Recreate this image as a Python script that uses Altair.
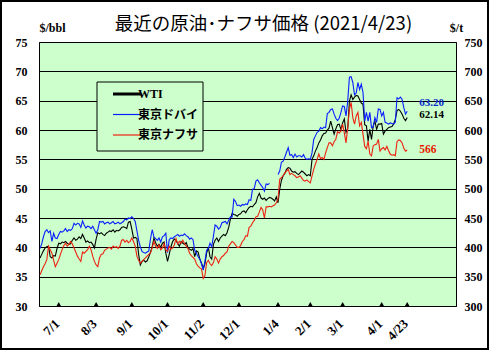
import json
import altair as alt
import pandas as pd

# ---------------- data ----------------
WTI = [
    38.2, 38.8, 39.4, 39.9, 40.1, 40.2, 38.4, 38.2, 38.6, 38.5,
    39.8, 40.7, 40.6, 40.9, 40.8, 41.0, 40.7, 40.5, 40.6, 41.2,
    41.6, 41.2, 41.4, 41.8, 41.5, 42.2, 41.6, 40.9, 41.1, 40.8,
    40.9, 40.5, 39.9, 41.4, 42.5, 42.3, 42.5, 42.2, 42.0, 42.4,
    42.6, 42.8, 42.7, 43.0, 42.6, 42.9, 42.8, 43.0, 43.4, 43.5,
    43.4, 43.2, 44.3, 44.4, 43.1, 41.6, 41.7, 41.5, 38.8, 37.0,
    37.6, 37.8, 37.5, 37.7, 38.4, 39.2, 40.1, 41.6, 40.8, 40.2,
    40.5, 40.0, 40.7, 40.9, 39.0, 37.6, 38.8, 40.1, 41.0, 41.4,
    41.2, 40.6, 40.2, 41.0, 40.7, 40.5, 40.8, 40.0, 39.7, 39.5,
    39.8, 38.4, 39.4, 39.2, 38.0, 37.3, 36.4, 37.2, 39.0, 40.0,
    38.4, 38.0, 40.5, 41.2, 41.6, 41.0, 41.6, 41.9, 42.2, 42.0,
    42.5, 43.4, 44.8, 45.8, 45.6, 45.5, 45.3, 45.6, 45.7, 46.1,
    46.2, 45.9, 46.4, 46.8, 47.0, 46.9, 47.3, 47.6, 48.6, 49.2,
    48.4, 48.2, 48.4, 48.0, 48.3, 48.5, 48.4, 48.2, 47.9, 48.6,
    47.6, 49.9, 51.4, 52.2, 52.6, 53.3, 53.6, 53.5, 53.0, 52.8,
    52.9, 52.6, 52.4, 52.7, 53.0, 52.8, 52.5, 52.2, 52.4, 52.2,
    55.0, 55.6, 56.4, 57.0, 57.8, 58.3, 59.0, 59.4, 59.5, 60.0,
    60.3, 61.5, 60.4, 59.3, 60.2, 60.9, 61.0, 60.1, 61.2, 61.9,
    59.6, 60.2, 64.9, 66.0, 65.2, 65.6, 65.9, 65.8, 65.2, 64.6,
    64.4, 60.9, 60.7, 58.1, 60.1, 58.4, 60.7, 61.5, 60.1, 61.0,
    61.0, 61.1, 59.3, 59.8, 60.1, 60.4, 60.5, 60.6, 61.0, 61.8,
    63.3, 63.5, 63.2, 62.7, 62.0, 61.6, 62.14,
]

DUBAI = [
    39.8, 40.6, 41.8, 42.7, 43.0, 42.5, 42.8, 41.0, 42.4, 41.6,
    41.5, 42.2, 42.7, 42.6, 42.8, 43.2, 42.7, 43.0, 42.9, 43.2,
    44.1, 43.8, 44.1, 44.0, 43.4, 44.5, 43.8, 43.3, 43.6, 43.5,
    43.2, 43.6, 43.0, 42.4, 43.0, 44.4, 44.3, 44.4, 44.0, 44.2,
    44.3, 44.0, 44.2, 44.4, 44.0, 44.1, 44.3, 44.0, 44.2, 44.4,
    44.8, 44.7, 45.0, 44.9, 45.2, 44.9, 44.4, 42.8, 41.2, 40.1,
    39.3, 39.1, 39.0, 39.2, 39.4, 41.5, 43.0, 41.8, 41.5, 41.2,
    41.6, 40.9, 41.8, 42.0, 42.4, 39.1, 41.3, 41.6, 41.5, 41.8,
    42.0, 42.2, 41.9, 42.1, 42.0, 42.3, 42.0, 41.8, 41.4, 41.6,
    41.3, 39.5, 39.0, 38.4, 38.0, 37.2, 36.1, 37.6, 39.5, 39.8,
    40.7, 40.1, 41.9, 43.8, 43.6, 43.1, 43.4, 44.2, 44.3, 44.4,
    44.0, 44.6, 45.2, 45.2, 48.2, 47.8, 47.1, 47.2, 47.0, 47.3,
    47.2, 47.4, 47.3, 48.1, 48.0, 49.9, 50.0, 51.3, 51.5, 51.0,
    50.6, 50.2, 49.6, 50.8, 50.7, 50.9, None, None, None, None,
    52.4, 53.0, 54.5, 54.7, 55.4, 56.2, 57.0, 55.7, 55.8, 55.3,
    55.9, 55.4, 55.6, 55.6, 55.4, 55.8, 55.2, 55.0, 55.1, 55.0,
    56.1, 58.4, 59.0, 59.6, 59.8, 60.4, 60.2, 60.5, 60.4, 62.8,
    63.0, 63.5, 63.6, 62.7, 62.0, 61.6, 62.0, 63.0, 64.1, 64.0,
    62.4, 64.9, 69.0, 69.1, 68.1, 66.0, 66.3, 68.1, 66.9, 67.8,
    66.4, 61.5, 63.0, 61.5, 63.0, 60.4, 60.5, 62.1, 61.3, 63.6,
    63.5, 62.4, 63.0, 61.3, 61.2, 61.0, 61.2, 61.1, 61.0, 61.3,
    65.5, 65.3, 65.6, 65.2, 63.8, 62.7, 63.20,
]

NAPHTHA = [  # $/t
    353, 360, 367, 372, 379, 402, 396, 390, 378, 367,
    373, 379, 388, 396, 403, 407, 402, 405, 410, 406,
    399, 392, 385, 380, 376, 392, 390, 393, 396, 402,
    396, 385, 376, 370, 367, 382, 388, 389, 395, 397,
    399, 400, 397, 402, 400, 401, 398, 402, 412, 413,
    409, 412, 408, 410, 416, 410, 402, 385, 378, 373,
    376, 379, 382, 385, 388, 390, 400, 410, 402, 398,
    404, 396, 399, 406, 395, 393, 402, 397, 399, 404,
    415, 406, 410, 407, 412, 406, 402, 398, 390, 386,
    383, 380, 372, 368, 365, 363, 347, 352, 374, 378,
    372, 369, 374, 384, 380, 373, 380, 384, 386, 390,
    392, 402, 406, 410, 408, 404, 400, 400, 403, 410,
    413, 420, 419, 434, 436, 442, 446, 452, 453, 460,
    468, 464, 450, 469, 469, 470, 469, 471, 472, 476,
    482, 516, 519, 522, 527, 530, 533, 524, 526, 524,
    522, 519, 520, 522, 518, 514, 513, 515, 512, 510,
    522, 533, 542, 550, 559, 551, 553, 550, 561, 570,
    578, 578, 573, 580, 584, 597, 595, 598, 610, 595,
    578, 604, 635, 647, 621, 610, 624, 630, 607, 613,
    593, 572, 568, 581, 559, 556, 573, 575, 576, 584,
    564, 568, 570, 566, 572, 565, 559, 557, 558, 556,
    580, 583, 582, 578, 569, 564, 566,
]

SERIES = ["WTI", "東京ドバイ", "東京ナフサ"]
COLORS = ["#000000", "#0a1eff", "#ee2211"]
TICK_IDX = [11, 33, 54, 75, 96, 117, 140, 159, 178, 201, 216]
TICK_LABELS = ["7/1", "8/3", "9/1", "10/1", "11/2", "12/1", "1/4", "2/1", "3/1", "4/1", "4/23"]
TICK_BASE = [30] * len(TICK_IDX)
END_LABELS = ["62.14", "63.20", "566"]
LEFT_TICKS = [30, 35, 40, 45, 50, 55, 60, 65, 70, 75]
RIGHT_TICKS = [300, 350, 400, 450, 500, 550, 600, 650, 700, 750]
TITLE = "最近の原油･ナフサ価格  (2021/4/23)"

SERIF = "Liberation Serif"
MIXED = "Liberation Serif, Noto Sans CJK JP"

# ---------------- tables ----------------
n = len(WTI)
idx = list(range(n))
left_df = pd.DataFrame({"i": idx + idx, "v": WTI + DUBAI,
                        "s": [SERIES[0]] * n + [SERIES[1]] * n})
right_df = pd.DataFrame({"i": idx, "v": NAPHTHA, "s": [SERIES[2]] * n})
tick_df = pd.DataFrame({"i": TICK_IDX, "v": TICK_BASE, "lab": TICK_LABELS})

label_expr = f"{json.dumps(TICK_LABELS)}[indexof({json.dumps(TICK_IDX)}, datum.value)]"

x_enc = alt.X(
    "i:Q",
    scale=alt.Scale(domain=[-0.6, 244.7], nice=False, zero=False),
    axis=alt.Axis(values=TICK_IDX, labelExpr=label_expr, labelAngle=-45,
                  ticks=False, domain=False, grid=False, title=None,
                  labelFont=SERIF, labelFontSize=13, labelFontWeight="bold",
                  labelColor="black", labelPadding=11, labelOffset=-6,
                  labelOverlap=False, labelFlush=False),
)

y_left = alt.Y(
    "v:Q",
    scale=alt.Scale(domain=[30, 75], nice=False, zero=False),
    axis=alt.Axis(orient="left", values=LEFT_TICKS, grid=True, gridColor="black",
                  gridOpacity=1, gridWidth=1, ticks=False, domain=False,
                  labelOverlap=False, labelFlush=False,
                  title="$/bbl", titleAngle=0, titleX=13, titleY=-15,
                  titleAlign="center", titleBaseline="middle", titleFont=SERIF,
                  titleFontSize=12, titleFontWeight="bold", titleColor="black",
                  labelFont=SERIF, labelFontSize=12, labelFontWeight="bold",
                  labelColor="black", labelPadding=12),
)

y_right = alt.Y(
    "v:Q",
    scale=alt.Scale(domain=[300, 750], nice=False, zero=False),
    axis=alt.Axis(orient="right", values=RIGHT_TICKS, grid=False, ticks=False,
                  domain=False, labelOverlap=False, labelFlush=False,
                  title="$/t", titleAngle=0, titleX=0, titleY=-15,
                  titleAlign="center", titleBaseline="middle", titleFont=SERIF,
                  titleFontSize=12, titleFontWeight="bold", titleColor="black",
                  labelFont=SERIF, labelFontSize=12, labelFontWeight="bold",
                  labelColor="black", labelPadding=8),
)

legend_def = alt.Legend(
    title=None, orient="none", legendX=82, legendY=46, direction="vertical",
    symbolType="stroke", symbolSize=784, symbolOpacity=1,
    symbolStrokeWidth=alt.ExprRef("datum.value === 'WTI' ? 3 : 1.2"),
    rowPadding=8.5, padding=0, zindex=3,
    labelFont=MIXED, labelFontSize=12, labelFontWeight="bold",
    labelColor="black", labelOffset=5,
)

color_enc = alt.Color("s:N", scale=alt.Scale(domain=SERIES, range=COLORS), legend=legend_def)

lines_left = alt.Chart(left_df).mark_line(
    strokeWidth=1.1, invalid="break-paths-show-domains"
).encode(x=x_enc, y=y_left, color=color_enc)

txt_wti = alt.Chart(pd.DataFrame({"i": [n - 1], "v": [WTI[-1]], "t": [END_LABELS[0]]})).mark_text(
    align="left", baseline="middle", dx=12, dy=-2.5, font=SERIF, fontSize=11,
    fontWeight="bold", color="black").encode(x=x_enc, y=y_left, text="t:N")

txt_dubai = alt.Chart(pd.DataFrame({"i": [n - 1], "v": [DUBAI[-1]], "t": [END_LABELS[1]]})).mark_text(
    align="left", baseline="middle", dx=12, dy=-8, font=SERIF, fontSize=11,
    fontWeight="bold", color="#0a2acc").encode(x=x_enc, y=y_left, text="t:N")

tri = alt.Chart(tick_df).mark_point(
    shape="triangle-up", filled=True, size=20, color="black", opacity=1, yOffset=-2
).encode(x=x_enc, y=y_left)

left_group = alt.layer(lines_left, txt_wti, txt_dubai, tri)

line_right = alt.Chart(right_df).mark_line(strokeWidth=1.1).encode(
    x=x_enc, y=y_right, color=color_enc)

txt_naph = alt.Chart(pd.DataFrame({"i": [n - 1], "v": [NAPHTHA[-1]], "t": [END_LABELS[2]]})).mark_text(
    align="left", baseline="middle", dx=12, dy=0, font=SERIF, fontSize=11.5,
    fontWeight="bold", color="#e81a00").encode(x=x_enc, y=y_right, text="t:N")

right_group = alt.layer(line_right, txt_naph)

# decorative outer frame and legend box
frame = alt.Chart(pd.DataFrame({"a": [0]})).mark_rect(
    fillOpacity=0, stroke="black", strokeWidth=2
).encode(x=alt.value(-38), x2=alt.value(449), y=alt.value(-41), y2=alt.value(307))

legend_box = alt.Chart(pd.DataFrame({"a": [0]})).mark_rect(
    fill="#ccffcc", stroke="black", strokeWidth=1
).encode(x=alt.value(58), x2=alt.value(164), y=alt.value(40), y2=alt.value(109))

chart = alt.layer(left_group, right_group, frame, legend_box).resolve_scale(
    y="independent"
).properties(
    width=417, height=264,
    autosize=alt.AutoSizeParams(type="none"),
    padding={"left": 39, "top": 42, "right": 33, "bottom": 45},
    background="white",
    title=alt.TitleParams(TITLE, font="Noto Sans CJK JP", fontSize=18.5,
                          fontWeight="normal", color="black", anchor="middle",
                          frame="group", baseline="bottom", offset=8, dx=16, dy=60),
).configure_view(
    stroke="black", strokeWidth=1, fill="#ccffcc"
)

chart.save("out.html", embed_options={"renderer": "svg", "actions": False})
